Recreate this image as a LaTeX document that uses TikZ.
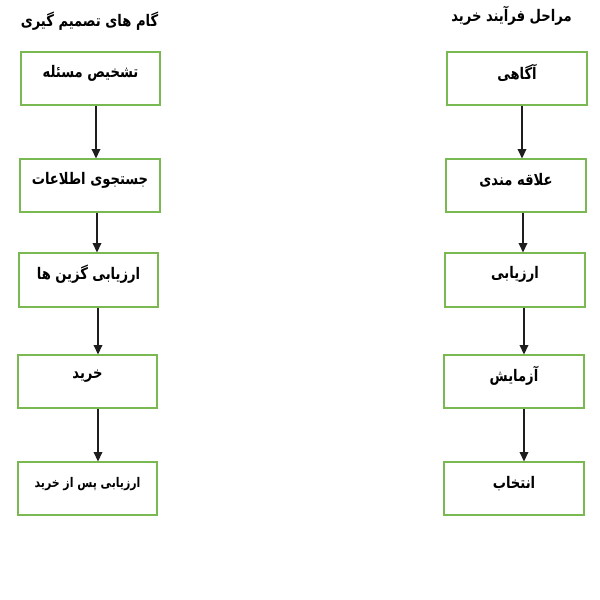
\documentclass[tikz,border=0pt]{standalone}
\usepackage{fontspec}
\TeXXeTstate=1
\newfontfamily\fa[Script=Arabic,FakeStretch=0.82]{DejaVu Sans}
\usetikzlibrary{arrows.meta,fit}
\definecolor{boxgreen}{RGB}{122,185,82}
\definecolor{arrowgray}{RGB}{30,30,30}
\begin{document}
\begin{tikzpicture}[x=0.75pt,y=-0.75pt,
  box/.style={draw=boxgreen, line width=0.9pt, inner sep=0pt, rectangle},
  lbl/.style={font=\fa\bfseries\fontsize{12}{14}\selectfont, inner sep=0pt},
  small/.style={font=\fa\bfseries\fontsize{10}{12}\selectfont, inner sep=0pt},
  ttl/.style={font=\fa\bfseries\fontsize{12}{14}\selectfont, inner sep=0pt},
  arr/.style={draw=arrowgray, line width=1.1pt, -{Triangle[width=6.5pt,length=7pt]}}]
\useasboundingbox (0,0) rectangle (600,600);
% titles
\node[ttl] (tl) at (89.5,21) {\beginR گام های تصمیم گیری\endR};
\node[ttl] (tr) at (511.5,16) {\beginR مراحل فرآیند خرید\endR};
% left boxes
\node[box, fit={(21,52) (160,105)}] (l1) {};
\node[box, fit={(20,159) (160,212)}] (l2) {};
\node[box, fit={(19,253) (158,307)}] (l3) {};
\node[box, fit={(18,355) (157,408)}] (l4) {};
\node[box, fit={(18,462) (157,515)}] (l5) {};
% right boxes
\node[box, fit={(447,52) (587,105)}] (r1) {};
\node[box, fit={(446,159) (586,212)}] (r2) {};
\node[box, fit={(445,253) (585,307)}] (r3) {};
\node[box, fit={(444,355) (584,408)}] (r4) {};
\node[box, fit={(444,462) (584,515)}] (r5) {};
% labels
\node[lbl] (l1t) at ([yshift=4pt]l1.center) {\beginR تشخیص مسئله\endR};
\node[lbl] (l2t) at ([yshift=4pt]l2.center) {\beginR جستجوی اطلاعات\endR};
\node[lbl] (l3t) at ([yshift=4pt]l3.center) {\beginR ارزیابی گزین ها\endR};
\node[lbl] (l4t) at ([yshift=4pt]l4.center) {\beginR خرید\endR};
\node[small] (l5t) at ([yshift=3.5pt]l5.center) {\beginR ارزیابی پس از خرید\endR};
\node[lbl] (r1t) at ([yshift=4pt]r1.center) {\beginR آگاهی\endR};
\node[lbl] (r2t) at ([yshift=4pt]r2.center) {\beginR علاقه مندی\endR};
\node[lbl] (r3t) at ([yshift=4pt]r3.center) {\beginR ارزیابی\endR};
\node[lbl] (r4t) at ([yshift=4pt]r4.center) {\beginR آزمایش\endR};
\node[lbl] (r5t) at ([yshift=4pt]r5.center) {\beginR انتخاب\endR};
% arrow columns
\coordinate (a1) at (96,0);
\coordinate (a2) at (97,0);
\coordinate (a3) at (98,0);
\coordinate (b1) at (522,0);
\coordinate (b2) at (523,0);
\coordinate (b3) at (524,0);
\draw[arr] (l1.south -| a1) -- (l2.north -| a1);
\draw[arr] (l2.south -| a2) -- (l3.north -| a2);
\draw[arr] (l3.south -| a3) -- (l4.north -| a3);
\draw[arr] (l4.south -| a3) -- (l5.north -| a3);
\draw[arr] (r1.south -| b1) -- (r2.north -| b1);
\draw[arr] (r2.south -| b2) -- (r3.north -| b2);
\draw[arr] (r3.south -| b3) -- (r4.north -| b3);
\draw[arr] (r4.south -| b3) -- (r5.north -| b3);
\end{tikzpicture}
\end{document}
